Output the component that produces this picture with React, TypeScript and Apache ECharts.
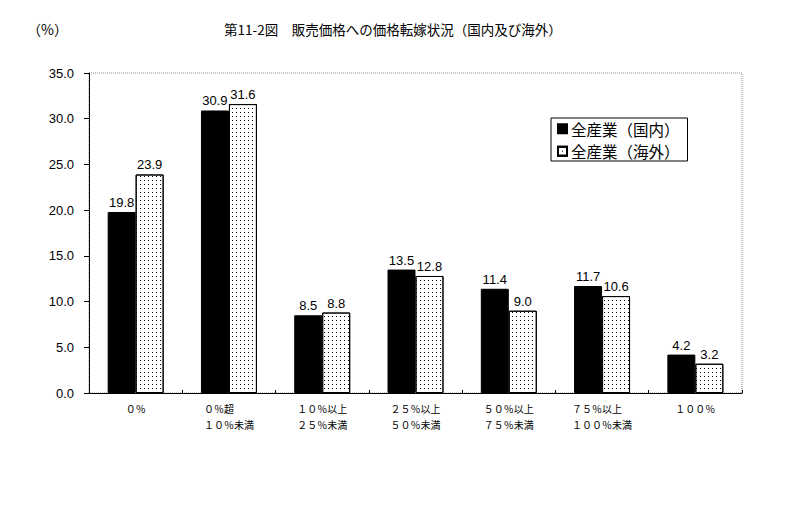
import React, { useEffect, useRef } from "react";
import * as echarts from "echarts";

const categories = [
  "０％",
  "０％超　　\n１０％未満",
  "１０％以上\n２５％未満",
  "２５％以上\n５０％未満",
  "５０％以上\n７５％未満",
  "７５％以上　\n１００％未満",
  "１００％",
];
const domestic = [19.8, 30.9, 8.5, 13.5, 11.4, 11.7, 4.2];
const overseas = [23.9, 31.6, 8.8, 12.8, 9.0, 10.6, 3.2];
const seriesNames = ["全産業（国内）", "全産業（海外）"];
const titleText = "第11-2図　販売価格への価格転嫁状況（国内及び海外）";
const unitText = "（%）";

const JP = '"Noto Sans CJK JP", sans-serif';
const NUM = '"Liberation Sans", Arial, sans-serif';

export default function App() {
  const ref = useRef<HTMLDivElement>(null);
  useEffect(() => {
    document.body.style.margin = "0";
    const chart = echarts.init(ref.current!, null, { renderer: "svg" });
    chart.setOption({
      animation: false,
      backgroundColor: "#fff",
      title: [
        {
          text: titleText,
          left: 219,
          top: 17,
          textStyle: { fontFamily: JP, fontSize: 13.5, fontWeight: "normal", color: "#000" },
        },
        {
          text: unitText,
          left: 22,
          top: 17,
          textStyle: { fontFamily: JP, fontSize: 14, fontWeight: "normal", color: "#000" },
        },
      ],
      legend: {
        orient: "vertical",
        left: 551,
        top: 118,
        backgroundColor: "#fff",
        borderColor: "#000",
        borderWidth: 1,
        borderRadius: 0,
        padding: [3, 8, 2, 6],
        itemWidth: 9,
        itemHeight: 9,
        itemGap: 7,
        icon: "rect",
        textStyle: {
          fontFamily: JP,
          fontSize: 15.5,
          lineHeight: 15,
          color: "#000",
          padding: [0, 0, 0, -1],
        },
        data: seriesNames,
      },
      grid: {
        left: 89,
        top: 73,
        right: 45,
        bottom: 132,
        show: true,
        borderColor: "#888",
        borderWidth: 1,
        borderType: "dotted",
      },
      xAxis: {
        type: "category",
        data: categories,
        axisLine: { lineStyle: { color: "#000", width: 1 } },
        axisTick: { show: true, inside: true, length: 3, lineStyle: { color: "#000" } },
        axisLabel: {
          fontFamily: JP,
          fontSize: 10,
          lineHeight: 16,
          color: "#000",
          margin: 7,
          interval: 0,
        },
      },
      yAxis: {
        type: "value",
        min: 0,
        max: 35,
        interval: 5,
        axisLine: { show: true, lineStyle: { color: "#000", width: 1 } },
        axisTick: { show: true, inside: false, length: 5, lineStyle: { color: "#000" } },
        axisLabel: {
          fontFamily: NUM,
          fontSize: 13,
          color: "#000",
          margin: 15,
          formatter: (v: number) => v.toFixed(1),
        },
        splitLine: { show: false },
      },
      series: [
        {
          name: seriesNames[0],
          type: "bar",
          data: domestic,
          barGap: "0%",
          barCategoryGap: "40%",
          itemStyle: { color: "#000", borderColor: "#000", borderWidth: 1 },
          label: {
            show: true,
            position: "top",
            distance: 3,
            fontFamily: NUM,
            fontSize: 13,
            color: "#000",
            formatter: (p: any) => Number(p.value).toFixed(1),
          },
        },
        {
          name: seriesNames[1],
          type: "bar",
          data: overseas,
          barGap: "0%",
          barCategoryGap: "40%",
          itemStyle: {
            color: "#fff",
            borderColor: "#000",
            borderWidth: 1,
            decal: {
              symbol: "rect",
              symbolSize: 1,
              dashArrayX: [1, 3],
              dashArrayY: [1, 3],
              rotation: 0,
              color: "#000",
              backgroundColor: "#fff",
            },
          },
          label: {
            show: true,
            position: "top",
            distance: 3,
            fontFamily: NUM,
            fontSize: 13,
            color: "#000",
            formatter: (p: any) => Number(p.value).toFixed(1),
          },
        },
      ],
    });
    return () => chart.dispose();
  }, []);
  return <div ref={ref} style={{ width: 787, height: 525 }} />;
}
